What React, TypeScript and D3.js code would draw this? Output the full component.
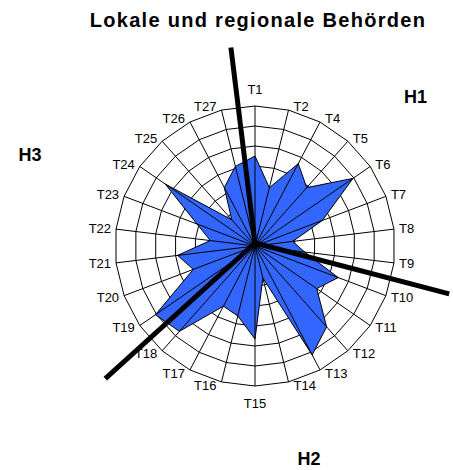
import React from "react";
import * as d3 from "d3";

const categories = [
  "T1", "T2", "T4", "T5", "T6", "T7", "T8", "T9", "T10", "T11", "T12", "T13", "T14",
  "T15", "T16", "T17", "T18", "T19", "T20", "T21", "T22", "T23", "T24", "T25", "T26", "T27",
];
const values = [
  4.5, 3.0, 4.65, 3.9, 5.95, 3.6, 1.9, 2.5, 4.45, 3.75, 5.4, 6.15, 1.65,
  4.65, 3.6, 3.4, 5.7, 6.05, 3.3, 3.9, 2.25, 3.1, 5.45, 1.75, 3.3, 4.1,
];
const ringLevels = [1, 2, 3, 4, 5, 6, 7];
const groupNames = ["H1", "H2", "H3"];
// index of the first category of each group
const groupStart = [0, 8, 17];
const separatorLength = 10;
const title = "Lokale und regionale Behörden";

const W = 453;
const H = 470;
const CX = 255;
const CY = 246;
const R = 140;
const FONT = "'Liberation Sans', Arial, sans-serif";
const groupLabelPos: [number, number][] = [
  [415.5, 103],
  [309, 465],
  [30, 161],
];

export default function App() {
  const n = categories.length;
  const angle = d3.scaleLinear().domain([0, n]).range([0, 2 * Math.PI]);
  const radius = d3.scaleLinear().domain([0, 7]).range([0, R]);

  const ringLine = d3
    .lineRadial<number>()
    .angle((_, i) => angle(i))
    .radius((d) => d)
    .curve(d3.curveLinearClosed);

  const dataLine = d3
    .lineRadial<number>()
    .angle((_, i) => angle(i))
    .radius((d) => radius(d))
    .curve(d3.curveLinearClosed);

  const pt = (a: number, r: number): [number, number] => [Math.sin(a) * r, -Math.cos(a) * r];

  return (
    <svg
      width={W}
      height={H}
      style={{ position: "absolute", left: 0, top: 0, background: "#fff" }}
      fontFamily={FONT}
    >
      <text
        x={258}
        y={27}
        textAnchor="middle"
        fontSize={20}
        fontWeight="bold"
        letterSpacing={1.3}
        fill="#000"
      >
        {title}
      </text>
      <g transform={`translate(${CX},${CY})`}>
        {ringLevels.map((lv) => (
          <path
            key={lv}
            d={ringLine(categories.map(() => radius(lv))) || ""}
            fill="none"
            stroke="#000"
            strokeWidth={1}
          />
        ))}
        <path d={dataLine(values) || ""} fill="#3366FF" stroke="none" />
        {categories.map((c, i) => {
          const [x, y] = pt(angle(i), R);
          return <line key={c} x1={0} y1={0} x2={x} y2={y} stroke="#000" strokeWidth={1} />;
        })}
        <path d={dataLine(values) || ""} fill="none" stroke="#000" strokeWidth={1} strokeLinejoin="miter" />
        {categories.map((c, i) => {
          const a = angle(i);
          const [vx, vy] = pt(a, R);
          const s = Math.sin(a);
          const co = Math.cos(a);
          let x = vx;
          let y = vy;
          let anchor: "start" | "middle" | "end" = "middle";
          if (Math.abs(s) < 0.05) {
            y = vy - Math.sign(co) * 17;
          } else {
            x = vx + Math.sign(s) * 5;
            y = vy - 4 * co;
            anchor = s > 0 ? "start" : "end";
          }
          return (
            <text
              key={c}
              x={x}
              y={y}
              textAnchor={anchor}
              dominantBaseline="central"
              fontSize={13}
              fill="#000"
            >
              {c}
            </text>
          );
        })}
        {groupStart.map((gi, k) => {
          const a = angle(gi - 0.5);
          const [x, y] = pt(a, radius(separatorLength));
          return <line key={k} x1={0} y1={-3} x2={x} y2={y} stroke="#000" strokeWidth={5} />;
        })}
      </g>
      {groupNames.map((g, k) => (
        <text
          key={g}
          x={groupLabelPos[k][0]}
          y={groupLabelPos[k][1]}
          textAnchor="middle"
          fontSize={18}
          fontWeight="bold"
          fill="#000"
        >
          {g}
        </text>
      ))}
    </svg>
  );
}
